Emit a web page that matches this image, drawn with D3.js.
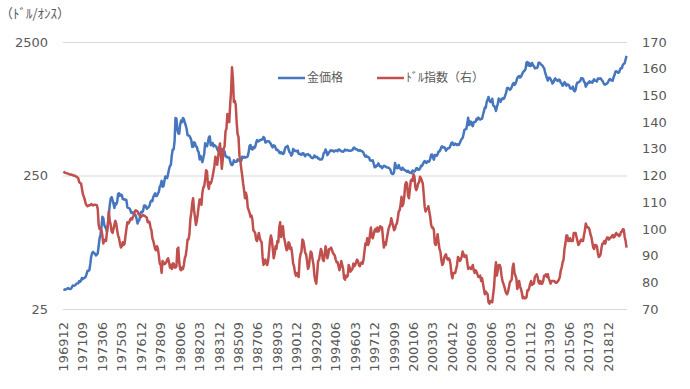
<!DOCTYPE html>
<html lang="ja">
<head>
<meta charset="UTF-8">
<title>金価格とドル指数</title>
<style>
  body { margin: 0; background: #fff; }
  text { font-family: "DejaVu Sans", sans-serif; fill: #595959; }
  .jp { font-family: "Noto Sans CJK JP", sans-serif; }
</style>
</head>
<body>
<script src="https://cdn.jsdelivr.net/npm/d3@7"></script>
<script>
// 月次データ 196912 〜 202008
const startMonth = "196912"

// 金価格（ドル/オンス）
const goldPrice = [
  35.2,
  34.9,35.0,35.1,35.6,35.9,35.4,35.3,35.4,36.2,37.5,37.4,37.4,
  37.9,38.7,38.9,39.0,40.5,40.1,40.9,42.7,42.0,42.5,42.9,43.5,
  45.8,48.3,48.3,49.0,54.6,62.1,65.7,67.0,65.5,64.9,62.9,63.9,
  65.1,74.2,84.4,90.5,102.0,122.5,120.2,106.8,103.0,100.1,94.8,106.7,
  129.2,150.2,168.4,172.2,163.3,154.1,143.0,154.6,151.8,158.8,181.7,183.9,
  175.8,180.0,178.2,167.0,167.0,164.2,165.1,163.0,144.1,142.7,142.4,139.3,
  131.6,131.0,132.6,128.2,127.7,125.4,117.9,109.3,114.2,116.0,130.6,133.6,
  132.3,136.4,148.4,149.2,146.6,140.8,143.2,144.8,149.0,158.9,162.0,160.5,
  173.0,178.0,183.7,175.3,176.3,183.4,188.8,206.5,212.0,227.8,206.0,207.8,
  227.3,245.7,242.0,239.2,257.3,279.1,294.7,300.8,355.1,391.7,392.5,455.1,
  675.3,665.3,553.6,517.4,513.8,600.7,644.3,626.5,673.6,661.2,623.5,594.9,
  557.6,500.5,499.8,495.8,479.7,460.8,409.3,410.1,443.2,437.8,413.4,410.1,
  384.2,374.0,330.0,350.4,333.9,314.9,338.6,364.3,435.2,422.9,414.7,444.3,
  481.0,491.0,420.5,432.0,438.6,413.0,422.4,416.3,411.8,393.6,381.7,388.1,
  370.9,386.4,394.4,381.0,377.2,377.7,347.7,348.3,341.1,340.2,341.2,320.2,
  302.8,299.1,304.0,325.3,316.6,316.5,317.3,330.2,323.4,325.4,325.3,322.0,
  345.4,338.9,345.7,340.4,342.6,342.8,348.7,376.6,418.0,423.2,395.3,391.3,
  408.7,401.1,408.6,438.5,460.2,449.6,450.4,460.9,460.2,465.4,467.5,486.3,
  476.5,441.5,443.7,452.1,451.0,451.2,437.6,431.8,413.8,406.6,420.3,418.7,
  404.0,387.9,390.1,384.2,371.1,367.6,374.9,365.4,361.9,366.9,392.1,409.4,
  410.1,416.8,393.1,374.3,369.1,352.3,361.2,394.7,389.3,380.7,381.8,378.2,
  383.7,363.3,363.5,358.4,356.8,366.7,367.7,356.2,348.7,358.7,359.7,361.7,
  354.5,353.9,344.3,338.6,337.2,340.8,353.1,342.8,345.1,344.4,335.0,334.7,
  329.0,329.3,330.1,342.2,367.2,371.9,392.0,378.8,355.3,364.2,373.8,383.3,
  386.9,381.9,384.1,377.3,381.4,385.6,385.5,380.3,391.6,389.8,384.4,379.5,
  378.6,376.5,382.1,391.0,385.3,387.6,386.2,383.8,383.1,383.1,385.8,387.2,
  400.0,405.0,396.2,392.9,391.9,385.3,383.5,387.5,383.1,381.1,377.9,369.2,
  354.8,346.6,351.8,344.4,343.8,340.8,324.1,324.0,322.8,324.9,306.0,288.7,
  289.3,297.5,295.9,308.3,299.1,292.3,292.9,284.1,289.0,295.9,294.1,291.6,
  287.3,287.3,285.9,282.6,276.4,261.3,256.2,256.7,265.0,310.7,293.2,283.1,
  284.3,300.0,286.4,280.0,275.3,285.7,281.6,274.5,273.7,270.0,266.0,271.5,
  265.5,261.9,263.0,260.5,272.4,270.2,267.5,272.4,283.4,283.1,276.2,275.9,
  281.7,295.5,294.0,302.7,314.5,321.2,313.3,310.3,319.2,316.6,319.1,333.0,
  356.9,359.0,340.6,328.2,355.7,356.4,351.0,359.8,378.9,378.9,389.9,407.6,
  414.0,405.3,406.7,403.0,383.8,392.4,398.1,400.5,405.3,420.5,439.4,442.1,
  424.0,423.4,434.2,429.2,421.9,430.7,424.5,437.9,456.0,469.9,476.7,509.8,
  549.9,555.0,557.1,610.6,676.5,596.2,633.7,632.6,598.2,585.8,627.8,629.8,
  631.2,664.8,654.9,679.4,666.9,655.5,665.3,665.4,712.7,754.6,806.3,803.2,
  889.6,922.3,968.4,909.7,888.7,889.5,939.8,839.0,829.9,806.6,760.9,816.1,
  858.7,943.2,924.3,890.2,928.6,945.7,934.2,949.4,996.6,1043.2,1127.0,1134.7,
  1117.9,1095.4,1113.3,1148.7,1205.4,1232.9,1192.9,1215.8,1270.9,1342.0,1369.9,1390.6,
  1356.4,1372.7,1424.0,1473.8,1510.4,1528.7,1572.8,1755.8,1771.9,1665.2,1738.9,1652.2,
  1656.1,1742.6,1673.8,1650.1,1585.5,1596.7,1593.9,1626.0,1744.8,1746.6,1721.6,1684.8,
  1671.9,1627.6,1593.1,1487.9,1414.0,1343.4,1285.5,1351.7,1348.6,1316.6,1275.8,1221.5,
  1244.3,1299.6,1336.1,1299.0,1287.5,1279.1,1310.6,1295.1,1236.6,1222.5,1175.3,1200.6,
  1251.8,1227.1,1178.6,1198.9,1198.6,1181.5,1128.3,1117.9,1124.8,1159.3,1086.4,1068.3,
  1097.9,1199.5,1245.1,1242.3,1260.9,1276.4,1336.7,1340.2,1326.6,1266.6,1238.4,1157.4,
  1192.1,1234.2,1231.1,1266.9,1246.0,1260.3,1236.8,1283.0,1314.1,1279.5,1281.9,1264.5,
  1331.3,1330.7,1324.7,1334.8,1303.5,1281.6,1237.7,1201.7,1198.4,1215.4,1220.7,1250.4,
  1291.8,1320.1,1300.9,1285.9,1283.7,1359.0,1413.0,1500.4,1510.6,1494.8,1470.0,1479.1,
  1560.7,1597.1,1591.9,1683.2,1715.9,1732.2,1846.5,1968.6
]

// ドル指数（右軸）
const dollarIndex = [
  121.5,
  121.2,121.0,120.9,120.8,120.7,120.5,120.4,120.4,120.3,120.1,120.0,119.9,
  119.8,119.5,119.3,119.0,117.5,117.2,117.0,115.0,113.0,112.0,111.0,109.5,
  108.8,108.5,108.7,108.9,108.9,109.3,109.0,108.8,109.0,109.1,109.0,108.9,
  107.5,101.5,100.0,100.2,99.5,97.5,94.5,95.5,96.0,95.5,99.0,102.0,
  106.5,103.0,101.5,99.0,98.5,100.0,101.5,103.0,102.0,99.5,97.5,96.5,
  94.5,93.0,93.5,95.0,94.0,94.5,97.5,100.0,102.5,102.0,102.5,103.5,
  104.0,103.5,104.5,105.0,106.5,107.0,106.8,106.5,105.5,105.3,105.0,104.5,
  105.0,105.2,105.0,104.8,104.5,104.2,102.5,102.8,102.5,100.5,99.5,96.5,
  95.5,94.0,92.5,92.0,93.5,92.5,90.0,87.0,86.5,83.5,88.0,87.5,
  86.8,87.0,87.5,88.5,89.0,87.5,85.5,86.5,85.0,87.0,87.0,85.5,
  85.5,86.0,92.5,93.0,87.5,85.0,84.5,85.5,85.0,86.5,89.0,90.0,
  92.5,96.0,96.0,98.0,103.5,106.0,109.5,111.5,107.0,104.5,101.5,103.0,
  105.5,108.5,111.0,111.0,109.0,113.5,115.5,116.0,118.5,122.0,121.5,116.5,
  115.0,117.5,117.0,118.0,119.5,121.5,123.5,127.0,125.5,124.0,127.0,130.0,
  132.0,127.5,122.5,126.0,130.0,131.0,136.5,137.5,143.0,141.0,140.0,146.5,
  151.5,160.5,156.0,147.5,148.0,146.5,140.0,135.5,134.5,127.5,125.5,122.5,
  120.0,117.0,114.5,111.5,113.5,112.0,108.0,107.0,106.0,104.5,105.0,103.5,
  99.5,99.0,98.5,96.0,95.5,97.0,98.5,96.5,95.5,95.0,89.5,86.5,
  87.5,88.5,87.0,86.5,88.0,91.5,95.5,97.5,96.0,92.5,89.0,90.5,
  93.5,92.5,95.5,95.0,100.5,102.5,97.0,99.5,101.0,97.0,95.5,93.5,
  92.0,92.5,95.0,94.5,92.5,93.0,90.5,87.0,86.0,83.5,82.5,83.5,
  82.5,82.0,88.5,90.5,91.5,96.0,95.5,93.5,91.0,90.5,88.0,85.0,
  86.0,89.0,91.5,91.0,88.5,86.5,82.5,80.5,79.5,83.5,88.0,88.5,
  90.5,92.5,91.5,88.5,88.0,90.0,93.5,92.0,89.0,90.5,92.5,92.5,
  93.0,92.0,91.0,90.5,90.0,88.5,87.5,87.5,86.0,84.5,86.0,88.0,
  86.5,85.0,81.5,81.0,82.5,82.0,82.5,86.5,85.5,84.0,84.5,85.0,
  87.0,86.0,86.5,87.5,88.5,88.0,86.5,86.0,87.0,87.5,87.0,88.5,
  91.5,94.5,94.0,96.5,94.0,95.0,98.0,100.5,97.0,96.5,98.0,99.5,
  100.0,99.0,100.5,99.0,99.5,101.0,100.5,100.5,96.5,93.0,95.0,94.0,
  96.0,98.0,100.0,101.0,102.0,104.0,102.5,101.0,99.5,100.0,101.5,102.0,
  104.0,106.5,107.0,109.0,112.0,108.5,109.5,112.0,116.5,117.5,117.0,112.5,
  111.5,114.5,118.0,118.5,118.0,120.5,119.5,115.5,114.5,115.5,117.0,117.5,
  119.5,119.0,118.0,117.0,113.0,108.5,106.5,107.5,107.5,108.5,106.5,104.5,
  101.5,100.5,100.5,99.5,94.5,94.0,96.0,98.0,95.0,92.5,91.5,88.5,
  86.5,87.0,89.0,90.0,90.5,89.0,88.5,89.0,88.5,86.5,83.0,81.5,
  83.5,83.5,83.5,85.0,86.5,89.5,89.0,88.0,88.5,89.5,91.5,90.5,
  89.5,90.0,90.0,87.5,85.0,85.5,85.5,85.0,85.5,86.5,84.5,83.5,
  84.5,84.0,83.0,82.0,82.0,82.5,80.5,81.5,79.5,77.5,75.5,76.5,
  76.0,75.5,72.5,72.0,73.0,73.0,72.5,75.5,78.5,84.0,87.5,82.5,
  84.5,86.5,86.5,85.5,82.5,80.5,79.5,78.5,77.0,76.0,75.5,76.5,
  78.0,80.0,80.5,81.0,85.5,87.0,83.5,82.5,81.5,77.5,78.5,80.5,
  78.5,77.5,76.0,74.0,74.5,74.0,74.0,74.5,77.0,77.0,78.0,79.5,
  80.5,79.0,79.5,79.5,82.0,82.5,83.0,82.0,80.0,79.5,80.5,79.5,
  79.5,80.5,82.5,82.5,83.0,82.0,83.0,81.5,80.5,79.5,80.5,80.5,
  80.5,80.5,80.0,79.8,80.0,80.5,81.0,82.0,84.5,85.5,87.5,88.5,
  92.5,94.5,97.5,97.5,95.5,95.5,96.5,95.5,95.5,95.5,98.5,98.5,
  98.5,97.0,95.5,94.0,94.5,95.5,96.0,95.5,95.5,97.5,99.5,102.0,
  101.0,100.5,100.5,99.8,98.0,97.0,95.0,93.0,92.5,94.0,94.0,93.5,
  91.0,89.5,89.8,90.5,93.0,94.5,94.5,95.5,94.5,95.8,96.8,96.8,
  96.0,96.5,96.8,97.2,97.7,96.8,97.0,98.0,98.5,97.7,97.9,97.3,
  97.7,98.8,99.0,99.9,99.8,97.0,95.5,93.0
]

const goldTicks = [25, 250, 2500]
const dollarTicks = [70, 80, 90, 100, 110, 120, 130, 140, 150, 160, 170]
const labelEvery = 21
const seriesNames = ["金価格", "ﾄﾞﾙ指数（右）"]
const unitLabel = "（ﾄﾞﾙ/ｵﾝｽ）"

// 月ラベル yyyymm
const parseM = d3.timeParse("%Y%m")
const fmtM = d3.timeFormat("%Y%m")
const months = d3.range(goldPrice.length).map(i => fmtM(d3.timeMonth.offset(parseM(startMonth), i)))

const width = 690, height = 389
const plotL = 63, plotR = 627, plotT = 42, plotB = 309

const svg = d3.select("body").append("svg")
  .attr("width", width)
  .attr("height", height)

const x = d3.scaleBand().domain(months).range([plotL, plotR])
const cx = m => x(m) + x.bandwidth() / 2
const yGold = d3.scaleLog().domain([25, 2500]).range([plotB, plotT])
const yDollar = d3.scaleLinear().domain([70, 170]).range([plotB, plotT])

// 左軸 + グリッド
const gl = svg.append("g")
  .attr("transform", "translate(" + plotL + ",0)")
  .call(d3.axisLeft(yGold).tickValues(goldTicks).tickFormat(d3.format("d"))
    .tickSize(-(plotR - plotL)).tickPadding(15))
gl.select(".domain").remove()
gl.selectAll(".tick line").attr("stroke", "#d9d9d9").attr("stroke-width", 1)
gl.selectAll(".tick text").attr("font-size", 13).attr("font-family", "DejaVu Sans").attr("fill", "#595959")

// 右軸
const gr = svg.append("g")
  .attr("transform", "translate(" + plotR + ",0)")
  .call(d3.axisRight(yDollar).tickValues(dollarTicks).tickSize(0).tickPadding(15))
gr.select(".domain").remove()
gr.selectAll(".tick text").attr("font-size", 13).attr("font-family", "DejaVu Sans").attr("fill", "#595959")

// x軸ラベル（縦書き）
svg.append("g").selectAll("text")
  .data(months.filter((m, i) => i % labelEvery === 0))
  .enter().append("text")
  .attr("transform", d => "translate(" + (cx(d) + 4.5) + ",322) rotate(-90)")
  .attr("text-anchor", "end")
  .attr("font-size", 13)
  .text(d => d)

// 線
const lineGold = d3.line().x((d, i) => cx(months[i])).y(d => yGold(d))
const lineDollar = d3.line().x((d, i) => cx(months[i])).y(d => yDollar(d))

svg.append("path").datum(goldPrice)
  .attr("fill", "none").attr("stroke", "#4677be").attr("stroke-width", 2.5)
  .attr("stroke-linejoin", "round")
  .attr("d", lineGold)

svg.append("path").datum(dollarIndex)
  .attr("fill", "none").attr("stroke", "#c0504d").attr("stroke-width", 2.5)
  .attr("stroke-linejoin", "round")
  .attr("d", lineDollar)

// 単位
svg.append("text").attr("class", "jp")
  .attr("x", 0).attr("y", 18)
  .attr("font-size", 13)
  .text(unitLabel)

// 凡例
const legend = [
  { name: seriesNames[0], color: "#4677be", x: 278 },
  { name: seriesNames[1], color: "#c0504d", x: 377 }
]
const lg = svg.append("g").selectAll("g").data(legend).enter().append("g")
lg.append("line")
  .attr("x1", d => d.x).attr("x2", d => d.x + 27)
  .attr("y1", 78).attr("y2", 78)
  .attr("stroke", d => d.color).attr("stroke-width", 2.5)
lg.append("text").attr("class", "jp")
  .attr("x", d => d.x + 29).attr("y", 78).attr("dy", "0.35em")
  .attr("font-size", 12)
  .text(d => d.name)
</script>
</body>
</html>
